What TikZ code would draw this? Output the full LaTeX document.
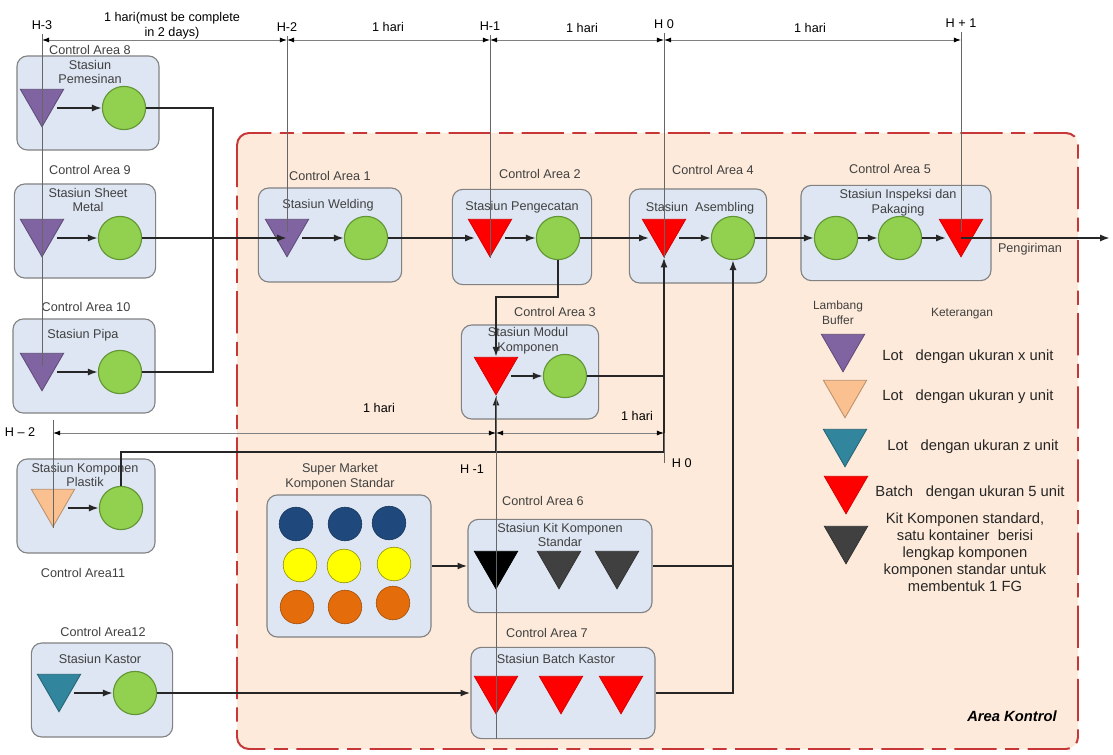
\documentclass[tikz,border=0pt]{standalone}
\usepackage{fontspec}
\setmainfont{Liberation Sans}
\usepackage{tikz}
\usetikzlibrary{shapes.geometric, arrows.meta}

\definecolor{boxfill}{RGB}{221,230,242}
\definecolor{boxline}{RGB}{130,130,130}
\definecolor{okgreen}{RGB}{146,208,80}
\definecolor{okgreenD}{RGB}{98,150,52}
\definecolor{lotx}{RGB}{128,100,162}
\definecolor{loty}{RGB}{250,192,144}
\definecolor{lotz}{RGB}{49,133,156}
\definecolor{batchred}{RGB}{255,0,0}
\definecolor{kitgray}{RGB}{64,64,64}
\definecolor{areafill}{RGB}{253,234,218}
\definecolor{arealine}{RGB}{200,55,55}
\definecolor{smblue}{RGB}{31,73,125}
\definecolor{smyellow}{RGB}{255,255,0}
\definecolor{smorange}{RGB}{228,108,10}
\definecolor{txt}{RGB}{64,64,64}

\begin{document}
\begin{tikzpicture}[
  x=0.025cm, y=-0.025cm,
  font=\fontsize{9}{10.5}\selectfont,
  stn/.style={draw=boxline, fill=boxfill, rounded corners=2.6mm, line width=0.8pt, minimum width=3.5cm, minimum height=2.35cm, inner sep=0pt},
  ttl/.style={text=txt, align=center, inner sep=0pt},
  ca/.style={text=txt, inner sep=0pt},
  proc/.style={circle, draw=okgreenD, fill=okgreen, line width=0.8pt, minimum size=1.08cm, inner sep=0pt},
  buf/.style={regular polygon, regular polygon sides=3, shape border rotate=180, minimum size=1.25cm, inner sep=0pt, yshift=1.56mm, line width=0.6pt},
  bufX/.style={buf, fill=lotx, draw=lotx!75!black},
  bufY/.style={buf, fill=loty, draw=loty!75!black},
  bufZ/.style={buf, fill=lotz, draw=lotz!75!black},
  bufR/.style={buf, fill=batchred, draw=batchred!85!black},
  bufK/.style={buf, fill=kitgray, draw=kitgray!80!black},
  bufB/.style={buf, fill=black, draw=black},
  flow/.style={-{Latex[length=7pt,width=5pt]}, line width=1.3pt, black!85},
  link/.style={line width=1.3pt, black!85},
  dim/.style={{Latex[length=5pt,width=3.5pt,color=black]}-{Latex[length=5pt,width=3.5pt,color=black]}, line width=0.6pt, gray},
  tick/.style={line width=0.6pt, gray!80!black},
  region/.style={draw=arealine, fill=areafill, line width=1.4pt, rounded corners=3mm, dash pattern=on 30pt off 6pt on 10pt off 6pt},
  lgd/.style={text=black!85, font=\fontsize{10.5}{12}\selectfont, inner sep=0pt},
]

% ---------- positions ----------
\def\yTop{40}    % upper time axis
\def\yMid{433}   % lower time axis
\def\yRow{238}   % main line

\useasboundingbox (0,0) rectangle (1113,755);

% =====================================================
% area kontrol
% =====================================================
\draw[region] (237,133) rectangle (1078,749);
\node[font=\fontsize{10.5}{12}\selectfont\bfseries\itshape, text=black] (areaK) at (1012,716) {Area Kontrol};

% =====================================================
% station boxes
% =====================================================
\node[stn, minimum width=3.55cm] (b8)  at (88,103) {};
\node[stn, minimum width=3.53cm] (b9)  at (85,231) {};
\node[stn, minimum width=3.55cm] (b10) at (84,366) {};
\node[stn, minimum width=3.45cm] (b11) at (86,506) {};
\node[stn, minimum width=3.53cm] (b12) at (102,690) {};
\node[stn, minimum width=3.58cm] (b1)  at (330,235) {};
\node[stn, minimum width=3.48cm, minimum height=2.38cm] (b2) at (522,237) {};
\node[stn, minimum width=3.43cm] (b4)  at (698,236) {};
\node[stn, minimum width=4.75cm, minimum height=2.38cm] (b5) at (896,233) {};
\node[stn, minimum width=3.43cm] (b3)  at (530,372) {};
\node[stn, minimum width=4.1cm, minimum height=3.55cm] (sm) at (349,566) {};
\node[stn, minimum width=4.6cm, minimum height=2.33cm] (kit) at (560,566) {};
\node[stn, minimum width=4.6cm, minimum height=2.28cm] (bk) at (563,693) {};

% control area labels
\node[ca] (ca8)  at (90,50)  {Control Area 8};
\node[ca] (ca9)  at (90,170) {Control Area 9};
\node[ca] (ca10) at (86,307) {Control Area 10};
\node[ca] (ca11) at (83,573) {Control Area11};
\node[ca] (ca12) at (103,632) {Control Area12};
\node[ca] (ca1)  at (330,176) {Control Area 1};
\node[ca] (ca2)  at (540,174) {Control Area 2};
\node[ca] (ca4)  at (713,170) {Control Area 4};
\node[ca] (ca5)  at (890,169) {Control Area 5};
\node[ca] (ca3)  at (555,312) {Control Area 3};
\node[ca] (ca6)  at (543,501) {Control Area 6};
\node[ca] (ca7)  at (547,633) {Control Area 7};

% station titles
\node[ttl] (n8)  at (90,72)   {Stasiun\\Pemesinan};
\node[ttl] (n9)  at (88,200)  {Stasiun Sheet\\Metal};
\node[ttl] (n10) at (83,335)  {Stasiun Pipa};
\node[ttl] (n11) at (85,475)  {Stasiun Komponen\\Plastik};
\node[ttl] (n12) at (100,659) {Stasiun Kastor};
\node[ttl] (n1)  at (328,205) {Stasiun Welding};
\node[ttl] (n2)  at (522,207) {Stasiun Pengecatan};
\node[ttl] (n4)  at (700,208) {Stasiun~ Asembling};
\node[ttl] (n5)  at (898,203) {Stasiun Inspeksi dan\\Pakaging};
\node[ttl] (n3)  at (528,341) {Stasiun Modul\\Komponen};
\node[ttl] (nsm) at (340,477) {Super Market\\Komponen Standar};
\node[ttl] (n6)  at (560,535) {Stasiun Kit Komponen\\Standar};
\node[ttl] (n7)  at (556,659) {Stasiun Batch Kastor};

% super market stock
\filldraw[fill=smblue, draw=smblue!70!black]     (296,524) circle (0.42cm);
\filldraw[fill=smblue, draw=smblue!70!black]     (345,524) circle (0.42cm);
\filldraw[fill=smblue, draw=smblue!70!black]     (389,523) circle (0.42cm);
\filldraw[fill=smyellow, draw=smyellow!55!black] (300,565) circle (0.42cm);
\filldraw[fill=smyellow, draw=smyellow!55!black] (344,566) circle (0.42cm);
\filldraw[fill=smyellow, draw=smyellow!55!black] (394,564) circle (0.42cm);
\filldraw[fill=smorange, draw=smorange!70!black] (297,607) circle (0.42cm);
\filldraw[fill=smorange, draw=smorange!70!black] (345,607) circle (0.42cm);
\filldraw[fill=smorange, draw=smorange!70!black] (393,603) circle (0.42cm);

% =====================================================
% buffers and processes
% =====================================================
\node[bufX] (t8)  at (42,108) {};
\node[proc] (c8)  at (124,108) {};
\node[bufX] (t9)  at (42,\yRow) {};
\node[proc] (c9)  at (120,\yRow) {};
\node[bufX] (t10) at (42,372) {};
\node[proc] (c10) at (120,372) {};
\node[bufY] (t11) at (53,508) {};
\node[proc] (c11) at (121,508) {};
\node[bufZ] (t12) at (59,693) {};
\node[proc] (c12) at (135,693) {};

\node[bufX] (t1)  at (287,\yRow) {};
\node[proc] (c1)  at (366,\yRow) {};
\node[bufR] (t2)  at (490,\yRow) {};
\node[proc] (c2)  at (558,\yRow) {};
\node[bufR] (t4)  at (664,\yRow) {};
\node[proc] (c4)  at (733,\yRow) {};
\node[proc] (c5a) at (836,\yRow) {};
\node[proc] (c5b) at (900,\yRow) {};
\node[bufR] (t5)  at (961,\yRow) {};
\node[bufR] (t3)  at (496,376) {};
\node[proc] (c3)  at (565,376) {};

\node[bufB] (k1) at (496,570) {};
\node[bufK] (k2) at (559,570) {};
\node[bufK] (k3) at (617,570) {};
\node[bufR] (r1) at (496,695) {};
\node[bufR] (r2) at (561,695) {};
\node[bufR] (r3) at (621,695) {};

% junctions
\coordinate (j9)  at (213,\yRow);
\coordinate (j3)  at (496,297);
\coordinate (j3b) at (664,376);
\coordinate (j0)  at (664,452);
\coordinate (jm)  at (496,452);
\coordinate (jk)  at (733,566);
\coordinate (ship) at (1110,\yRow);

% =====================================================
% material flow
% =====================================================
\draw[flow] (t8.east |- c8) -- (c8);
\draw[link] (c8.east) -| (j9);
\draw[link] (c10.east) -| (j9);
\draw[flow] (t9.east |- c9) -- (c9);
\draw[flow] (t10.east |- c10) -- (c10);
\draw[flow] (c9) -- (t1.center |- c9);
\draw[flow] (t1.east |- c1) -- (c1);
\draw[flow] (c1) -- (t2.west |- c1);
\draw[flow] (t2.east |- c2) -- (c2);
\draw[flow] (c2) -- (t4.west |- c2);
\draw[flow] (t4.east |- c4) -- (c4);
\draw[flow] (c4) -- (c5a);
\draw[flow] (c5a) -- (c5b);
\draw[flow] (c5b) -- (t5.west |- c5b);
\draw[flow] (t5.center |- c5b) -- (ship);
\node[ttl] (kirim) at (1030,249) {Pengiriman};

\draw[flow] (c2.south) |- (j3) -- (t3.north);
\draw[flow] (t3.east |- c3) -- (c3);
\draw[link] (c3) -- (j3b);
\draw[flow] (t11.east |- c11) -- (c11);
\draw[flow] (c11.north) |- (j0) -- (t4.south);
\draw[flow] (jm) -- (t3.south);

\draw[flow] (sm.east) -- (kit.west);
\draw[link] (kit.east) -- (jk);
\draw[flow] (bk.east) -| (c4.south);
\draw[flow] (t12.east |- c12) -- (c12);
\draw[flow] (c12) -- (c12 -| bk.west);

% =====================================================
% time axes
% =====================================================
\node (lHa) at (42,25)  {H-3};
\node (lHb) at (287,27) {H-2};
\node (lHc) at (490,26) {H-1};
\node (lHd) at (664,24) {H 0};
\node (lHe) at (961,23) {H + 1};
\node[align=center, inner sep=0pt] (dA) at (172,26) {1 hari(must be complete\\in 2 days)};
\node (dB) at (388,27) {1 hari};
\node (dC) at (582,28) {1 hari};
\node (dD) at (810,28) {1 hari};

\coordinate (aA) at (42,\yTop);
\coordinate (aB) at (287,\yTop);
\coordinate (aC) at (490,\yTop);
\coordinate (aD) at (664,\yTop);
\coordinate (aE) at (961,\yTop);
\draw[dim] (aA) -- (aB);
\draw[dim] (aB) -- (aC);
\draw[dim] (aC) -- (aD);
\draw[dim] (aD) -- (aE);

\draw[tick] (lHa.south) -- (t10.center);
\draw[tick] (lHb.south) -- (t1.center);
\draw[tick] (lHc.south) -- (t2.south);
\draw[tick] (lHd.south) -- (t4.south);
\draw[tick] (lHe.south) -- (t5.center);

% lower axis
\coordinate (mA) at (53,\yMid);
\coordinate (mB) at (496,\yMid);
\coordinate (mC) at (664,\yMid);
\node (lMa) at (20,432) {H -- 2};
\node (lMb) at (472,469) {H -1};
\node[anchor=west] (lMc) at (667,463) {H 0};
\node (mdA) at (379,408) {1 hari};
\node (mdB) at (637,416) {1 hari};

\draw[dim] (mA) -- (mB);
\draw[dim] (mB) -- (mC);
\draw[tick] ([yshift=3.2mm]mA) -- (mA |- t11.south);
\draw[tick] (t3.south) -- (t3.south |- bk.south);
\draw[tick] (mC) -- (mC |- lMc.west);

% =====================================================
% legend
% =====================================================
\node[ttl, font=\fontsize{8.5}{10.5}\selectfont] (lgA) at (838,313) {Lambang\\Buffer};
\node[ttl, font=\fontsize{8.5}{10.5}\selectfont] (lgB) at (962,314) {Keterangan};

\node[bufX] (lg1) at (843,353) {};
\node[bufY] (lg2) at (845,399) {};
\node[bufZ] (lg3) at (845,448) {};
\node[bufR] (lg4) at (846,495) {};
\node[bufK] (lg5) at (846,545) {};

\node[lgd] (lt1) at (968,357) {Lot\hspace{9pt}dengan ukuran x unit};
\node[lgd] (lt2) at (968,397) {Lot\hspace{9pt}dengan ukuran y unit};
\node[lgd] (lt3) at (973,447) {Lot\hspace{9pt}dengan ukuran z unit};
\node[lgd] (lt4) at (970,493) {Batch\hspace{9pt}dengan ukuran 5 unit};
\node[lgd, align=center] (lt5) at (965,552) {Kit Komponen standard,\\satu kontainer\ \ berisi\\lengkap komponen\\komponen standar untuk\\membentuk 1 FG};

\end{tikzpicture}
\end{document}
